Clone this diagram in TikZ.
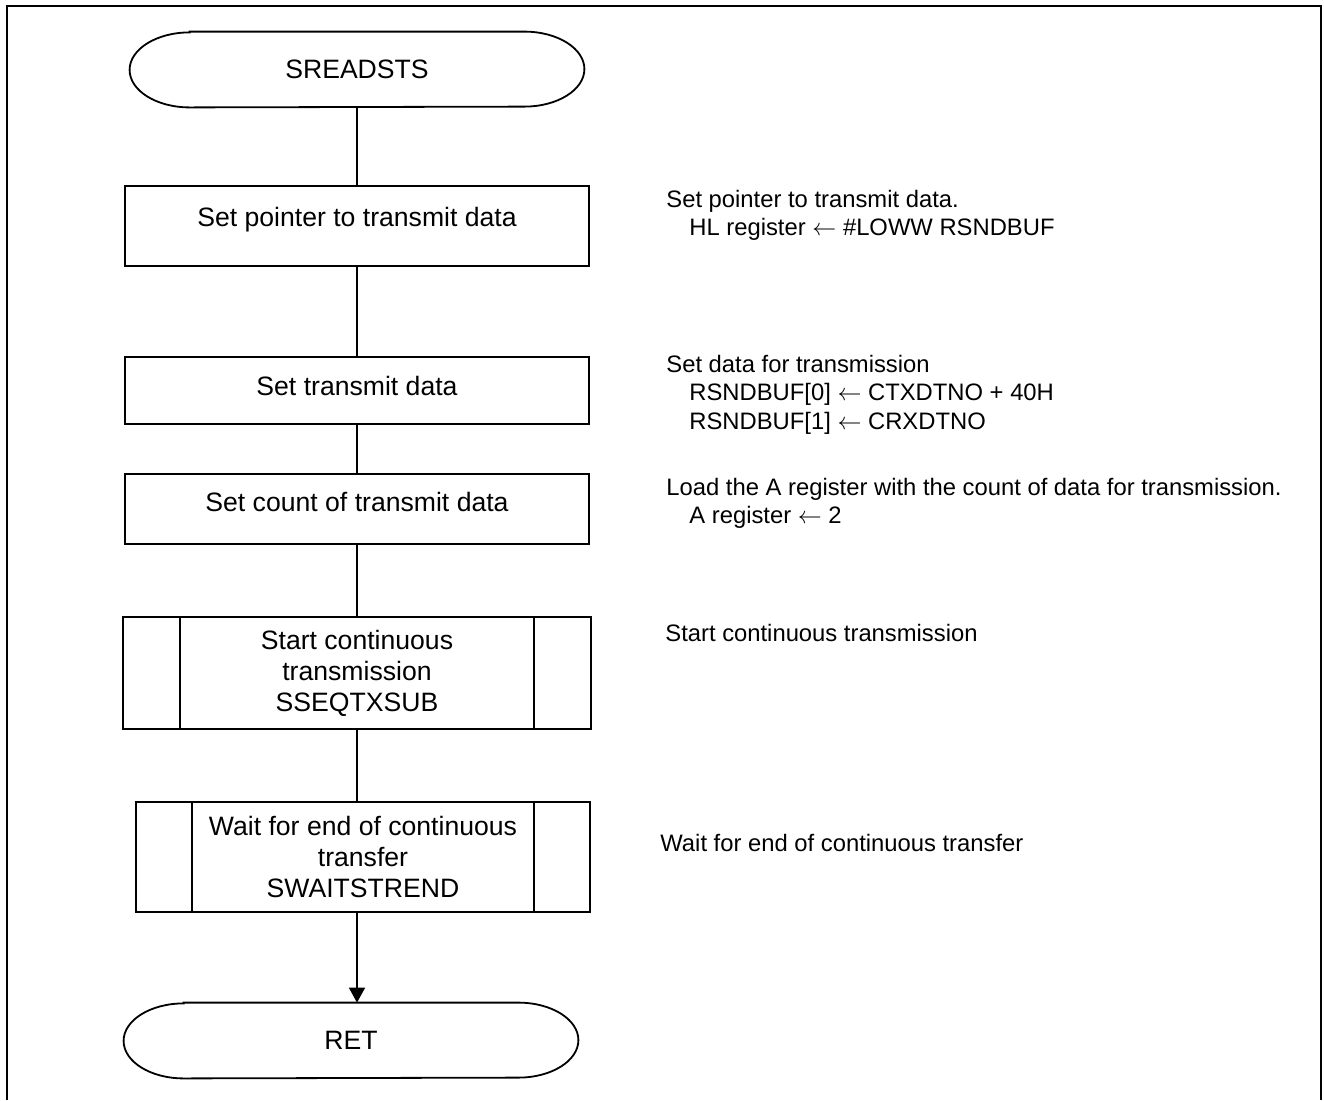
\documentclass[tikz,border=0pt]{standalone}
\usepackage{fontspec}
\setmainfont{Liberation Sans}
\usetikzlibrary{arrows.meta,calc}

\tikzset{
	flow/.style={line width=0.9pt},
	proc/.style={draw,flow,minimum width=232pt,inner sep=0pt,align=center,font=\fontsize{13.3}{15.5}\selectfont},
	term/.style={minimum width=227pt,minimum height=37.5pt,inner sep=0pt,font=\fontsize{13.3}{15.5}\selectfont},
	note/.style={anchor=north west,inner sep=0pt,align=left,font=\fontsize{11.9}{14.3}\selectfont},
}

\begin{document}
\begin{tikzpicture}[x=0.5pt,y=-0.5pt]
	\useasboundingbox (0,0) rectangle (1324,1100);
	\draw[line width=1pt] (6.5,1100) -- (6.5,6) -- (1321,6) -- (1321,1100);
	% flow
	\node[term] (start) at (357,69.5) {SREADSTS};
	\node[proc,minimum height=40pt,text height=10pt,text depth=9.5pt] (box1) at (357,226) {Set pointer to transmit data};
	\node[proc,minimum height=33.5pt,text height=10pt,text depth=5pt] (box2) at (357,390.5) {Set transmit data};
	\node[proc,minimum height=35pt,text height=10pt,text depth=7.5pt] (box3) at (357,509) {Set count of transmit data};
	\node[proc,minimum width=234pt,minimum height=56pt] (sub1) at (357,673) {Start continuous\\transmission\\SSEQTXSUB};
	\node[proc,minimum width=227pt,minimum height=55pt] (sub2) at (363,857) {Wait for end of continuous\\transfer\\SWAITSTREND};
	\node[term] (ret) at (351,1040.5) {RET};
	\foreach \n in {start,ret}
		\draw[flow] ($(\n.north west)+(30pt,0)$) -- ($(\n.north east)-(30pt,0)$)
			arc[start angle=90,end angle=-90,x radius=30pt,y radius=18.75pt]
			-- ($(\n.south west)+(30pt,0)$)
			arc[start angle=270,end angle=90,x radius=30pt,y radius=18.75pt] -- cycle;
	\foreach \n/\d in {sub1/29pt,sub2/28.5pt} {
		\draw[flow] ([xshift=\d]\n.north west) -- ([xshift=\d]\n.south west);
		\draw[flow] ([xshift=-\d]\n.north east) -- ([xshift=-\d]\n.south east);
	}
	\draw[flow] (start) -- (box1);
	\draw[flow] (box1) -- (box2);
	\draw[flow] (box2) -- (box3);
	\draw[flow] (box3) -- (sub1);
	\draw[flow] (sub1) -- (sub1 |- sub2.north);
	\draw[flow,-{Triangle[length=7.5pt,width=8pt]}] (sub1 |- sub2.south) -- (sub1 |- ret.north);
	% notes
	\node[note] (n1) at (666,189.5) {Set pointer to transmit data.\\\hspace*{11.5pt}HL register $\leftarrow$ \#LOWW RSNDBUF};
	\node[note] (n2) at (666,354.5) {Set data for transmission\\\hspace*{11.5pt}RSNDBUF[0] $\leftarrow$ CTXDTNO + 40H\\\hspace*{11.5pt}RSNDBUF[1] $\leftarrow$ CRXDTNO};
	\node[note] (n3) at (666,477.5) {Load the A register with the count of data for transmission.\\\hspace*{11.5pt}A register $\leftarrow$ 2};
	\node[note] (n4) at (665,623.5) {Start continuous transmission};
	\node[note] (n5) at (660,833.5) {Wait for end of continuous transfer};
\end{tikzpicture}
\end{document}
